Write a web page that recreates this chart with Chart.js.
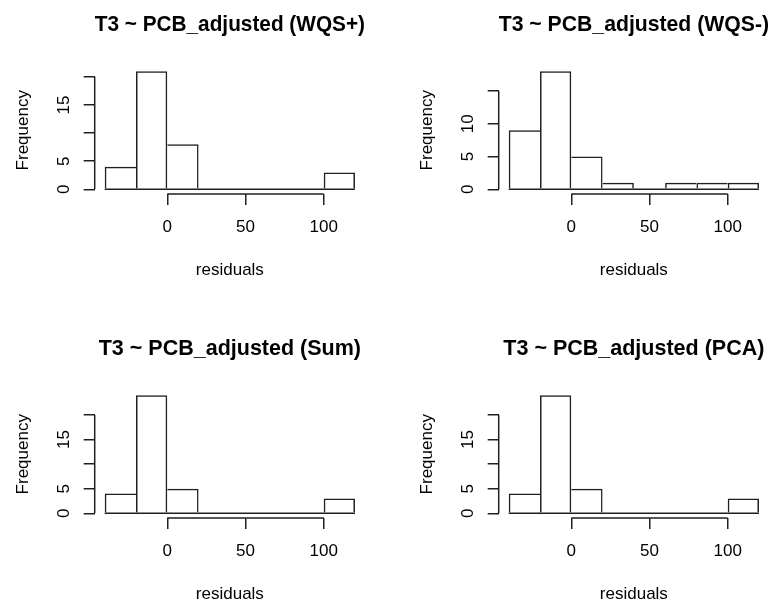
<!DOCTYPE html>
<html>
<head>
<meta charset="utf-8">
<script src="https://cdn.jsdelivr.net/npm/chart.js@4/dist/chart.umd.min.js"></script>
<style>
  html, body { margin: 0; padding: 0; background: #fff; }
  #figure { position: relative; width: 772px; height: 605px; overflow: hidden; background: #fff; }
  .panel { position: absolute; width: 368px; height: 281px; }
</style>
</head>
<body>
<div id="figure">
  <div class="panel" style="left:0px;top:0px"><canvas id="hWqsPos" width="368" height="281"></canvas></div>
  <div class="panel" style="left:404px;top:0px"><canvas id="hWqsNeg" width="368" height="281"></canvas></div>
  <div class="panel" style="left:0px;top:324px"><canvas id="hSum" width="368" height="281"></canvas></div>
  <div class="panel" style="left:404px;top:324px"><canvas id="hPca" width="368" height="281"></canvas></div>
</div>
<script>
// Histogram bins of the residuals (width 20)
const breaks = [-40, -20, 0, 20, 40, 60, 80, 100, 120];
const binCenters = [-30, -10, 10, 30, 50, 70, 90, 110];

// Counts per bin for each model
const countsWqsPos = [4, 21, 8, 0, 0, 0, 0, 3];
const countsWqsNeg = [9, 18, 5, 1, 0, 1, 1, 1];
const countsSum    = [4, 24, 5, 0, 0, 0, 0, 3];
const countsPca    = [4, 24, 5, 0, 0, 0, 0, 3];

// Axis ticks and their printed labels (overlapping ones left blank)
const xTicks = [0, 50, 100];
const xTickLabels = ['0', '50', '100'];
const yTicksTall = [0, 5, 10, 15, 20];
const yTickLabelsTall = ['0', '5', '', '15', ''];
const yTicksShort = [0, 5, 10, 15];
const yTickLabelsShort = ['0', '5', '10', ''];

const titles = [
  'T3 ~ PCB_adjusted (WQS+)',
  'T3 ~ PCB_adjusted (WQS-)',
  'T3 ~ PCB_adjusted (Sum)',
  'T3 ~ PCB_adjusted (PCA)'
];

const INK = '#202020';
const LW = 1.5;
const FONT = "'Liberation Sans', Arial, Helvetica, sans-serif";

Chart.defaults.font.family = FONT;
Chart.defaults.color = '#000';

// Axis lines that only span the first to last tick, base-graphics style
const rangeAxes = {
  id: 'rangeAxes',
  afterDraw(chart) {
    const { ctx, chartArea, scales } = chart;
    const xs = scales.x, ys = scales.y;
    const xt = xs.ticks, yt = ys.ticks;
    ctx.save();
    ctx.strokeStyle = INK;
    ctx.lineWidth = LW;
    ctx.beginPath();
    ctx.moveTo(xs.getPixelForValue(xt[0].value), chartArea.bottom);
    ctx.lineTo(xs.getPixelForValue(xt[xt.length - 1].value), chartArea.bottom);
    ctx.moveTo(chartArea.left, ys.getPixelForValue(yt[0].value));
    ctx.lineTo(chartArea.left, ys.getPixelForValue(yt[yt.length - 1].value));
    ctx.stroke();
    ctx.restore();
  }
};

// Shared edges between neighbouring bars are drawn once, by the taller bar
function edgeWidths(ctx) {
  if (ctx.type !== 'data') return LW;
  const d = ctx.dataset.data;
  const i = ctx.dataIndex;
  const v = d[i].y;
  const left = (i === 0 || v >= d[i - 1].y) ? LW : 0;
  const right = (i === d.length - 1 || v > d[i + 1].y) ? LW : 0;
  return { top: LW, left: left, right: right, bottom: 0 };
}

function drawHistogram(canvasId, title, counts, yTicks, yTickLabels) {
  const top = Math.max(...counts);
  const xPad = (breaks[breaks.length - 1] - breaks[0]) * 0.04;
  new Chart(document.getElementById(canvasId), {
    type: 'bar',
    data: {
      datasets: [
        {
          type: 'bar',
          data: binCenters.map((c, i) => ({ x: c, y: counts[i] })),
          backgroundColor: 'rgba(255,255,255,0)',
          borderColor: INK,
          borderWidth: edgeWidths,
          borderSkipped: false,
          inflateAmount: 0,
          categoryPercentage: 1,
          barPercentage: 1,
          order: 2
        },
        {
          type: 'line',
          data: breaks.map(b => ({ x: b, y: 0 })),
          borderColor: INK,
          borderWidth: LW,
          pointRadius: 0,
          fill: false,
          order: 1
        }
      ]
    },
    options: {
      responsive: false,
      animation: false,
      devicePixelRatio: 1,
      layout: { padding: { left: 0, right: 3, top: 0, bottom: 0 } },
      plugins: {
        legend: { display: false },
        tooltip: { enabled: false },
        title: {
          display: true,
          text: title,
          fullSize: false,
          color: '#000',
          font: { family: FONT, size: 21.5, weight: 'bold', lineHeight: 1.2 },
          padding: { top: 12.4, bottom: 28.3 }
        }
      },
      scales: {
        x: {
          type: 'linear',
          bounds: 'data',
          offset: false,
          min: breaks[0] - xPad,
          max: breaks[breaks.length - 1] + xPad,
          afterBuildTicks: s => { s.ticks = xTicks.map(v => ({ value: v })); },
          afterFit: s => { s.height = 87; },
          border: { display: false },
          grid: {
            display: true,
            offset: false,
            drawOnChartArea: false,
            drawTicks: true,
            tickLength: 11,
            color: INK,
            lineWidth: LW
          },
          ticks: {
            autoSkip: false,
            maxRotation: 0,
            padding: 12.2,
            color: '#000',
            font: { size: 17, lineHeight: 1.2 },
            callback: (v, i) => xTickLabels[i]
          },
          title: {
            display: true,
            text: 'residuals',
            color: '#000',
            font: { size: 17, lineHeight: 1.2 },
            padding: { top: 0, bottom: 0.3 }
          }
        },
        y: {
          type: 'linear',
          bounds: 'data',
          min: -0.04 * top,
          max: 1.04 * top,
          afterBuildTicks: s => { s.ticks = yTicks.map(v => ({ value: v })); },
          afterFit: s => { s.width = 94.7; },
          border: { display: false },
          grid: {
            display: true,
            drawOnChartArea: false,
            drawTicks: true,
            tickLength: 11,
            color: INK,
            lineWidth: LW
          },
          ticks: {
            autoSkip: false,
            minRotation: 90,
            maxRotation: 90,
            crossAlign: 'center',
            padding: 10,
            color: '#000',
            font: { size: 17, lineHeight: 1.2 },
            callback: (v, i) => yTickLabels[i]
          },
          title: {
            display: true,
            text: 'Frequency',
            color: '#000',
            font: { size: 17, lineHeight: 1.2 },
            padding: { top: 12.8, bottom: 0 }
          }
        }
      }
    },
    plugins: [rangeAxes]
  });
}

drawHistogram('hWqsPos', titles[0], countsWqsPos, yTicksTall, yTickLabelsTall);
drawHistogram('hWqsNeg', titles[1], countsWqsNeg, yTicksShort, yTickLabelsShort);
drawHistogram('hSum', titles[2], countsSum, yTicksTall, yTickLabelsTall);
drawHistogram('hPca', titles[3], countsPca, yTicksTall, yTickLabelsTall);
</script>
</body>
</html>
